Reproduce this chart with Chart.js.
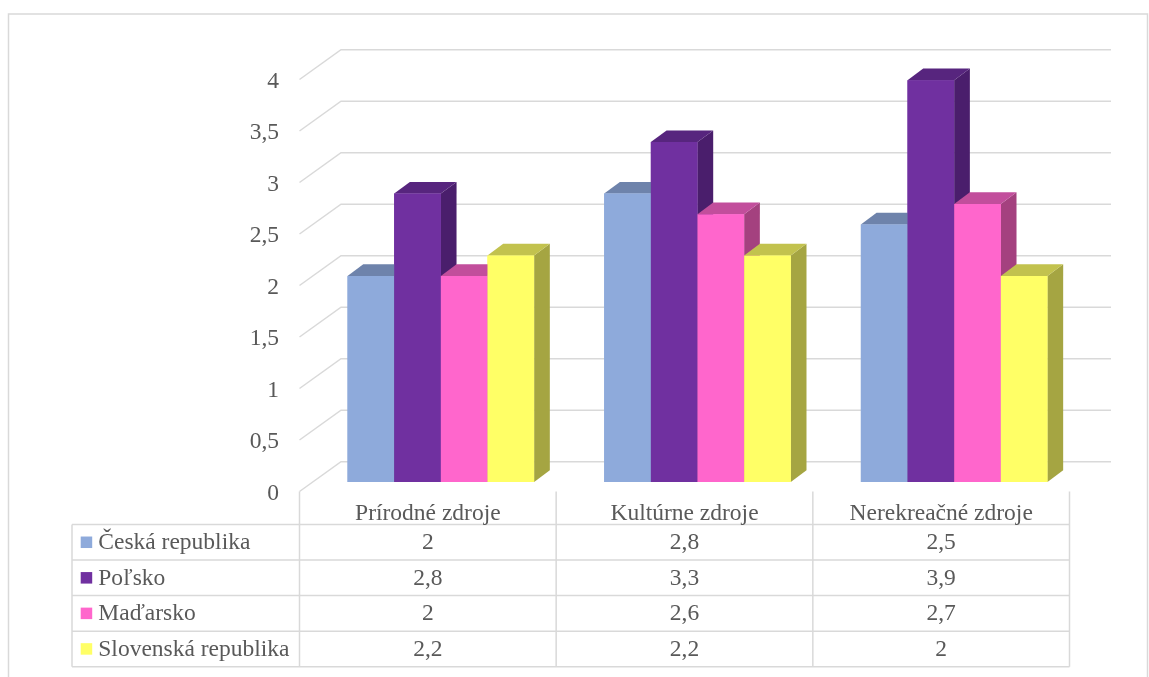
<!DOCTYPE html>
<html>
<head>
<meta charset="utf-8">
<script src="https://cdn.jsdelivr.net/npm/chart.js@4/dist/chart.umd.min.js"></script>
<style>
  html, body { margin: 0; padding: 0; background: #ffffff; }
  canvas { display: block; }
</style>
</head>
<body>
<canvas id="chart" width="1149" height="677"></canvas>
<script>
// Categories and series
const categories = ['Prírodné zdroje', 'Kultúrne zdroje', 'Nerekreačné zdroje'];
const seriesNames = ['Česká republika', 'Poľsko', 'Maďarsko', 'Slovenská republika'];
const ceskaRepublika = [2, 2.8, 2.5];
const polsko = [2.8, 3.3, 3.9];
const madarsko = [2, 2.6, 2.7];
const slovenskaRepublika = [2.2, 2.2, 2];

// Value axis ticks
const yTickValues = [0, 0.5, 1, 1.5, 2, 2.5, 3, 3.5, 4];
const yTickLabels = ['0', '0,5', '1', '1,5', '2', '2,5', '3', '3,5', '4'];

// Face colours for each series: front, top, side
const frontColors = ['#8EAADB', '#7030A0', '#FF66CC', '#FFFF66'];
const topColors   = ['#6E83AB', '#57257E', '#C24E9C', '#C2C24E'];
const sideColors  = ['#5F7194', '#4A1E6C', '#A4417F', '#A5A542'];

const seriesValues = [ceskaRepublika, polsko, madarsko, slovenskaRepublika];

// 3D projection offsets relative to the plane of the bar fronts
const FRONT = { dx: -13, dy: 9.5 };    // front edge of the floor / left wall
const BACK = { dx: 28.5, dy: -20.3 };  // back wall
const DEPTH = { dx: 15.7, dy: -11.7 }; // thickness of a bar

const FONT = '23.5px "Liberation Serif", "Times New Roman", serif';
const TEXT = '#595959';
const LINE = '#d9d9d9';

const fmt = v => String(v).replace('.', ',');

function drawBlock(ctx, bar, s) {
  const p = bar.getProps(['x', 'y', 'base', 'width'], true);
  const l = p.x - p.width / 2, r = p.x + p.width / 2;
  const t = p.y, b = p.base;
  // side face
  ctx.fillStyle = sideColors[s];
  ctx.beginPath();
  ctx.moveTo(r, t);
  ctx.lineTo(r + DEPTH.dx, t + DEPTH.dy);
  ctx.lineTo(r + DEPTH.dx, b + DEPTH.dy);
  ctx.lineTo(r, b);
  ctx.closePath();
  ctx.fill();
  // top face
  ctx.fillStyle = topColors[s];
  ctx.beginPath();
  ctx.moveTo(l, t);
  ctx.lineTo(l + DEPTH.dx, t + DEPTH.dy);
  ctx.lineTo(r + DEPTH.dx, t + DEPTH.dy);
  ctx.lineTo(r, t);
  ctx.closePath();
  ctx.fill();
  // front face, drawn by the bar element itself
  bar.draw(ctx);
}

const threeD = {
  id: 'threeD',
  beforeDraw(chart) {
    const ctx = chart.ctx;
    ctx.save();
    ctx.fillStyle = '#ffffff';
    ctx.fillRect(0, 0, chart.width, chart.height);
    ctx.restore();
  },
  beforeDatasetsDraw(chart) {
    const { ctx, chartArea: a, scales: { y } } = chart;
    ctx.save();
    ctx.strokeStyle = LINE;
    ctx.lineWidth = 1.5;
    yTickValues.forEach(v => {
      const py = y.getPixelForValue(v);
      ctx.beginPath();
      ctx.moveTo(a.left + FRONT.dx, py + FRONT.dy);
      ctx.lineTo(a.left + BACK.dx, py + BACK.dy);
      ctx.lineTo(a.right + BACK.dx, py + BACK.dy);
      ctx.stroke();
    });
    // tick labels sit on the front edge of the left wall
    ctx.font = FONT;
    ctx.fillStyle = TEXT;
    ctx.textAlign = 'right';
    ctx.textBaseline = 'alphabetic';
    yTickValues.forEach((v, i) => {
      const py = y.getPixelForValue(v) + FRONT.dy;
      ctx.fillText(yTickLabels[i], a.left + FRONT.dx - 20.5, py + 8);
    });
    ctx.restore();
  },
  afterDatasetsDraw(chart) {
    // blocks are stacked back to front, left to right within each group
    const ctx = chart.ctx;
    ctx.save();
    for (let c = 0; c < categories.length; c++) {
      for (let s = 0; s < seriesNames.length; s++) {
        const bar = chart.getDatasetMeta(s).data[c];
        if (bar) drawBlock(ctx, bar, s);
      }
    }
    ctx.restore();
  },
  afterDraw(chart) {
    const { ctx, chartArea: a, scales: { x } } = chart;
    const catW = (a.right - a.left) / categories.length;
    const colEdges = [];
    for (let i = 0; i <= categories.length; i++) colEdges.push(a.left + FRONT.dx + i * catW);
    const tableLeft = 72;
    const headTop = a.bottom + FRONT.dy;
    const headBottom = 524.5;
    const rowH = 35.55;
    const rowsBottom = headBottom + rowH * seriesNames.length;

    ctx.save();
    // table grid
    ctx.strokeStyle = LINE;
    ctx.lineWidth = 1.5;
    ctx.beginPath();
    for (let r = 0; r <= seriesNames.length; r++) {
      const yy = headBottom + r * rowH;
      ctx.moveTo(tableLeft, yy);
      ctx.lineTo(colEdges[colEdges.length - 1], yy);
    }
    ctx.moveTo(tableLeft, headBottom);
    ctx.lineTo(tableLeft, rowsBottom);
    colEdges.forEach(cx => {
      ctx.moveTo(cx, headTop);
      ctx.lineTo(cx, rowsBottom);
    });
    ctx.stroke();

    // header: category names
    ctx.font = FONT;
    ctx.fillStyle = TEXT;
    ctx.textAlign = 'center';
    ctx.textBaseline = 'alphabetic';
    categories.forEach((c, i) => {
      const cx = x.getPixelForValue(i) + FRONT.dx;
      ctx.fillText(c, cx, headTop + 28.5);
    });

    // rows: legend key, series name and values
    seriesNames.forEach((name, s) => {
      const top = headBottom + s * rowH;
      const mid = top + rowH / 2;
      ctx.fillStyle = frontColors[s];
      ctx.fillRect(80.7, mid - 5.75, 11.5, 11.5);
      ctx.fillStyle = TEXT;
      ctx.textAlign = 'left';
      ctx.fillText(name, 98.3, top + 24.8);
      ctx.textAlign = 'center';
      seriesValues[s].forEach((v, i) => {
        const cx = x.getPixelForValue(i) + FRONT.dx;
        ctx.fillText(fmt(v), cx, top + 24.8);
      });
    });

    // outer frame
    ctx.strokeStyle = LINE;
    ctx.lineWidth = 1.5;
    ctx.strokeRect(8.5, 14, 1139, 700);
    ctx.restore();
  }
};

new Chart(document.getElementById('chart'), {
  type: 'bar',
  data: {
    labels: categories,
    datasets: seriesNames.map((name, i) => ({
      label: name,
      data: seriesValues[i],
      backgroundColor: frontColors[i],
      borderWidth: 0,
      categoryPercentage: 0.727,
      barPercentage: 1
    }))
  },
  options: {
    responsive: false,
    devicePixelRatio: 1,
    animation: false,
    layout: { padding: { left: 312.5, right: 66.5, top: 70, bottom: 195 } },
    plugins: { legend: { display: false }, tooltip: { enabled: false } },
    scales: {
      x: { display: false },
      y: { display: false, min: 0, max: 4, ticks: { stepSize: 0.5 } }
    }
  },
  plugins: [threeD]
});
</script>
</body>
</html>
